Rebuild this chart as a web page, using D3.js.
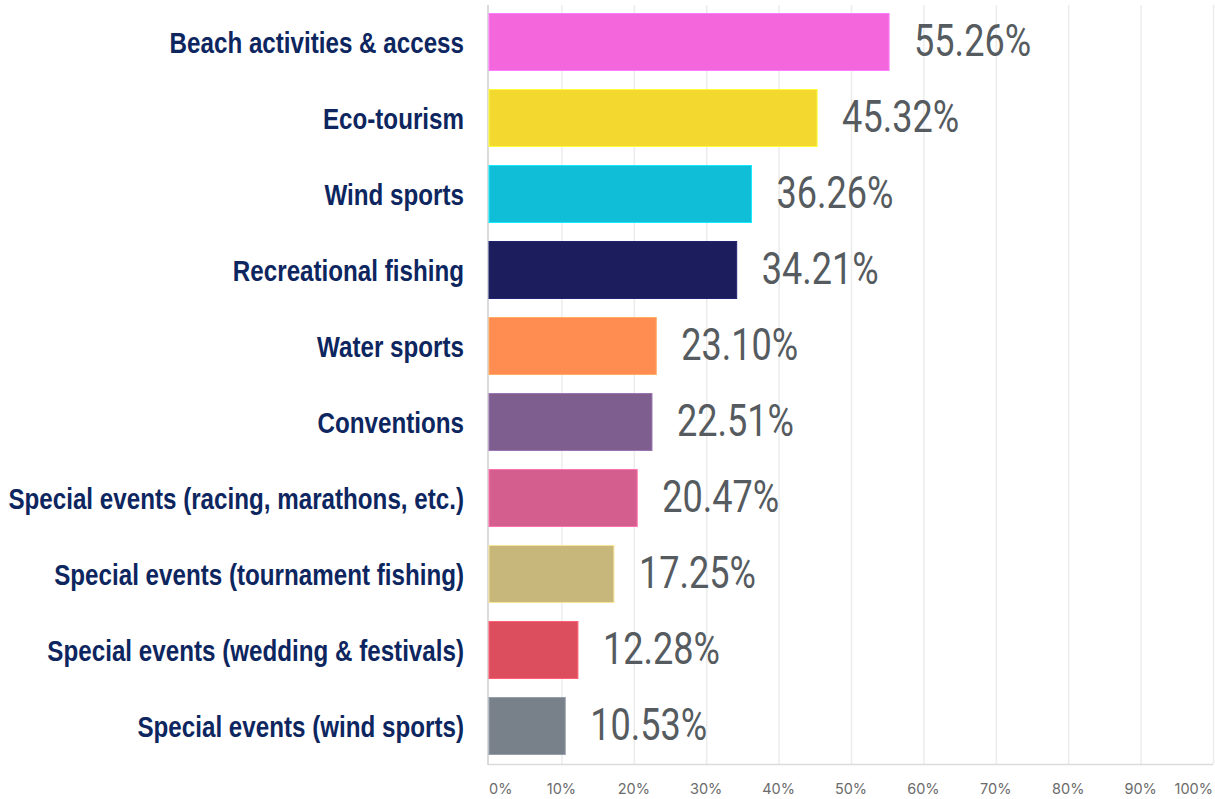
<!DOCTYPE html>
<html>
<head>
<meta charset="utf-8">
<script src="https://cdn.jsdelivr.net/npm/d3@7"></script>
<style>
	body { margin: 0; background: #fff; }
	svg { display: block; }
</style>
</head>
<body>
<svg id="chart" width="1215" height="799"></svg>
<script>
// categories, top to bottom
var categories = [
	"Beach activities & access",
	"Eco-tourism",
	"Wind sports",
	"Recreational fishing",
	"Water sports",
	"Conventions",
	"Special events (racing, marathons, etc.)",
	"Special events (tournament fishing)",
	"Special events (wedding & festivals)",
	"Special events (wind sports)"
];

// share of respondents, percent
var values = [55.26, 45.32, 36.26, 34.21, 23.10, 22.51, 20.47, 17.25, 12.28, 10.53];

var barColors = [
	"#f466dc", "#f3d92f", "#10bed8", "#1b1d5c", "#ff8c50",
	"#7d5e8f", "#d45e8e", "#c8b77a", "#dc4d5e", "#78808a"
];

var tickValues = [0, 10, 20, 30, 40, 50, 60, 70, 80, 90, 100];

var svg = d3.select("#chart");

// plot area (note: "top" is taken by window.top, so use plot* names)
var plotLeft = 489, plotRight = 1213, plotTop = 4, plotBottom = 764;
// the picture is horizontally squeezed, so text is squeezed too
var squeeze = 0.82;

var x = d3.scaleLinear().domain([0, 100]).range([plotLeft, plotRight]);
var y = d3.scaleBand()
	.domain(categories)
	.range([plotTop, plotBottom])
	.paddingInner(0.25)
	.paddingOuter(0.125);

// vertical gridlines
svg.append("g")
	.selectAll("line")
	.data(tickValues.slice(1))
	.join("line")
	.attr("x1", function (d) { return x(d) + 0.5; })
	.attr("x2", function (d) { return x(d) + 0.5; })
	.attr("y1", 5)
	.attr("y2", plotBottom)
	.attr("stroke", "#ececec")
	.attr("stroke-width", 1.5);

// bottom line
svg.append("line")
	.attr("x1", plotLeft - 1)
	.attr("x2", plotRight)
	.attr("y1", plotBottom + 0.5)
	.attr("y2", plotBottom + 0.5)
	.attr("stroke", "#dcdcdc")
	.attr("stroke-width", 1.5);

// left axis line
svg.append("line")
	.attr("x1", plotLeft - 1)
	.attr("x2", plotLeft - 1)
	.attr("y1", 5)
	.attr("y2", plotBottom + 1)
	.attr("stroke", "#cfcfcf")
	.attr("stroke-width", 1.5);

// bars
svg.append("g")
	.selectAll("rect")
	.data(values)
	.join("rect")
	.attr("x", x(0))
	.attr("y", function (d, i) { return y(categories[i]); })
	.attr("width", function (d) { return x(d) - x(0); })
	.attr("height", y.bandwidth())
	.attr("fill", function (d, i) { return barColors[i]; })
	.attr("stroke", function (d, i) { return d3.color(barColors[i]).brighter(0.6); })
	.attr("stroke-width", 1);

// value labels
svg.append("g")
	.selectAll("text")
	.data(values)
	.join("text")
	.attr("transform", function (d, i) {
		var cy = y(categories[i]) + y.bandwidth() / 2;
		return "translate(" + (x(d) + 25) + "," + (cy + 14) + ") scale(" + squeeze + ",1)";
	})
	.attr("font-family", "Roboto, 'Liberation Sans', sans-serif")
	.attr("font-size", "44px")
	.attr("fill", "#555b5f")
	.text(function (d) { return d.toFixed(2) + "%"; });

// category labels
svg.append("g")
	.selectAll("text")
	.data(categories)
	.join("text")
	.attr("transform", function (d) {
		var cy = y(d) + y.bandwidth() / 2;
		return "translate(464," + (cy + 11) + ") scale(" + squeeze + ",1)";
	})
	.attr("text-anchor", "end")
	.attr("font-family", "'Liberation Sans', Arial, sans-serif")
	.attr("font-weight", "bold")
	.attr("font-size", "29.5px")
	.attr("fill", "#0d2660")
	.text(function (d) { return d; });

// x tick labels
svg.append("g")
	.selectAll("text")
	.data(tickValues)
	.join("text")
	.attr("x", function (d) { return x(d); })
	.attr("y", 794)
	.attr("text-anchor", function (d, i) {
		if (i === 0) { return "start"; }
		if (i === tickValues.length - 1) { return "end"; }
		return "middle";
	})
	.attr("font-family", "Inter, 'Open Sans', sans-serif")
	.attr("font-size", "14.5px")
	.attr("fill", "#6b6b6b")
	.text(function (d) { return d + "%"; });
</script>
</body>
</html>
